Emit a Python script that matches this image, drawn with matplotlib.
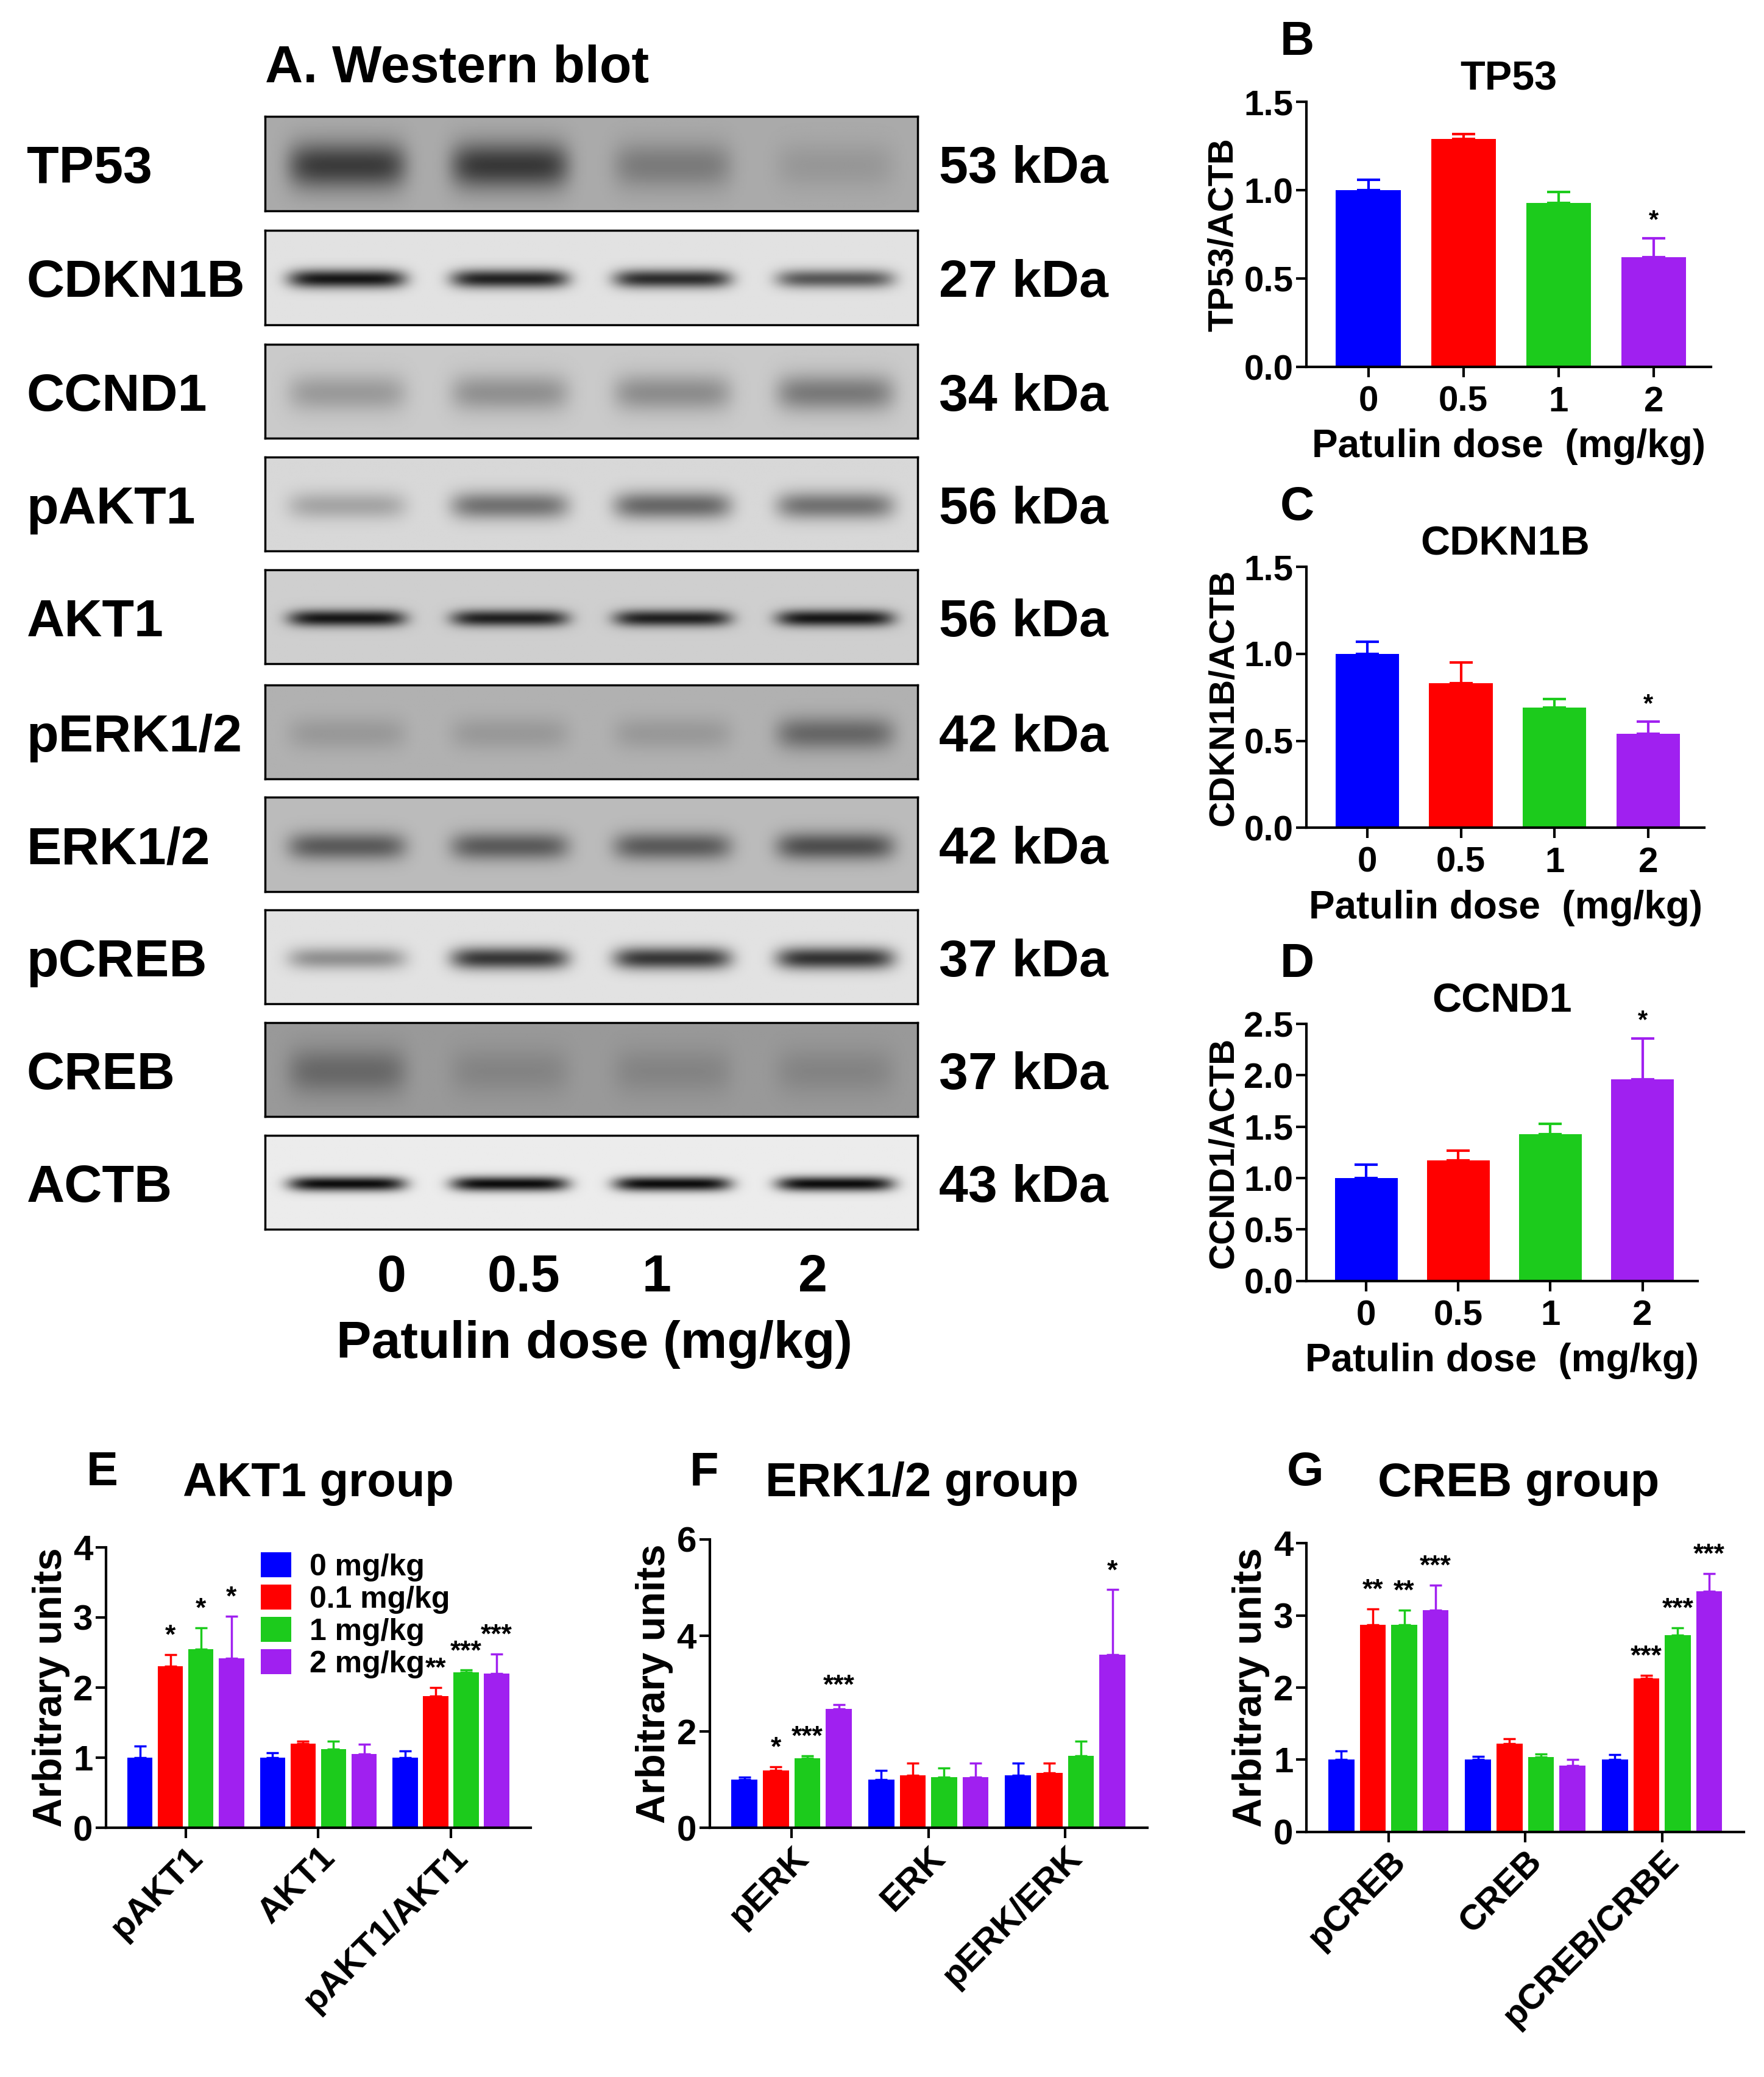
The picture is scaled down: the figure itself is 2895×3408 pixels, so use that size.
import numpy as np
import matplotlib
matplotlib.use("Agg")
import matplotlib.pyplot as plt

plt.rcParams['font.family'] = ['Liberation Sans', 'DejaVu Sans']
plt.rcParams['font.weight'] = 'bold'

W, H = 1330.0, 1568.0
fig = plt.figure(figsize=(28.95, 34.08), dpi=100)
colors = ['#0000FF', '#FF0000', '#1CCB1C', '#A020F0']

# ---- blot data ----
blot_names = ['TP53', 'CDKN1B', 'CCND1', 'pAKT1', 'AKT1', 'pERK1/2', 'ERK1/2', 'pCREB', 'CREB', 'ACTB']
blot_kda = ['53 kDa', '27 kDa', '34 kDa', '56 kDa', '56 kDa', '42 kDa', '42 kDa', '37 kDa', '37 kDa', '43 kDa']
blot_bg = [0.35, 0.12, 0.22, 0.16, 0.2, 0.32, 0.28, 0.12, 0.42, 0.08]
blot_band = [[0.7, 0.72, 0.3, 0.12],
             [0.95, 0.9, 0.85, 0.65],
             [0.25, 0.3, 0.32, 0.42],
             [0.25, 0.5, 0.55, 0.5],
             [0.95, 0.9, 0.9, 0.95],
             [0.15, 0.15, 0.15, 0.45],
             [0.55, 0.55, 0.55, 0.62],
             [0.38, 0.8, 0.8, 0.82],
             [0.35, 0.15, 0.15, 0.15],
             [1.0, 1.0, 1.0, 1.0]]
blot_thick = [0.25, 0.1, 0.2, 0.15, 0.09, 0.18, 0.15, 0.12, 0.25, 0.08]
blot_top = [88, 174, 260, 345, 430, 517, 602, 687, 772, 857]
lane_labels = ['0', '0.5', '1', '2']

xs = np.linspace(0, 1, 400)
ys = np.linspace(0, 1, 80)
for i, name in enumerate(blot_names):
    y0 = blot_top[i]
    ax = fig.add_axes([200 / W, 1 - (y0 + 71) / H, 492 / W, 71 / H])
    img = np.full((80, 400), blot_bg[i])
    for k, c in enumerate([0.125, 0.375, 0.625, 0.875]):
        gx = np.exp(-((xs - c) / 0.09) ** 6)
        gy = np.exp(-((ys - 0.52) / blot_thick[i]) ** 2)
        img = img + blot_band[i][k] * (1 - blot_bg[i]) * np.outer(gy, gx)
    ax.imshow(np.clip(img, 0, 1), cmap='gray_r', vmin=0, vmax=1.05, aspect='auto', extent=[0, 1, 0, 1])
    ax.set_xticks([])
    ax.set_yticks([])
    for s in ax.spines.values():
        s.set_linewidth(2.5)
    fig.text(20 / W, 1 - (y0 + 40) / H, name, fontsize=62, va='center', ha='left')
    fig.text(708 / W, 1 - (y0 + 40) / H, blot_kda[i], fontsize=62, va='center', ha='left')

fig.text(200 / W, 1 - 52 / H, 'A. Western blot', fontsize=62, va='center')
for lx, lab in zip([295, 395, 495, 613], lane_labels):
    fig.text(lx / W, 1 - 965 / H, lab, fontsize=62, ha='center', va='center')
fig.text(448 / W, 1 - 1015 / H, 'Patulin dose (mg/kg)', fontsize=62, ha='center', va='center')

# ---- single-protein panels ----
doses = ['0', '0.5', '1', '2']
tp53_mean = [1.0, 1.29, 0.93, 0.62]
tp53_err = [0.06, 0.03, 0.06, 0.11]
cdkn_mean = [1.0, 0.83, 0.69, 0.54]
cdkn_err = [0.07, 0.12, 0.05, 0.07]
ccnd_mean = [1.0, 1.17, 1.43, 1.96]
ccnd_err = [0.13, 0.1, 0.1, 0.4]

small = [
    ('B', 'TP53', 'TP53/ACTB', tp53_mean, tp53_err, 1.5, 0.5, (985, 1290, 77, 277)),
    ('C', 'CDKN1B', 'CDKN1B/ACTB', cdkn_mean, cdkn_err, 1.5, 0.5, (985, 1285, 428, 625)),
    ('D', 'CCND1', 'CCND1/ACTB', ccnd_mean, ccnd_err, 2.5, 0.5, (985, 1280, 773, 967)),
]
for letter, title, ylab, m, e, ymax, step, (x0, x1, yt, yb) in small:
    ax = fig.add_axes([x0 / W, 1 - yb / H, (x1 - x0) / W, (yb - yt) / H])
    x = np.arange(4)
    for k in range(4):
        ax.bar(x[k], m[k], 0.68, color=colors[k])
        ax.errorbar(x[k], m[k], yerr=[[0], [e[k]]], color=colors[k], capsize=14, elinewidth=3, capthick=3)
    ax.text(3, m[3] + e[3] + 0.02 * ymax, '*', ha='center', va='bottom', fontsize=30)
    ax.set_xlim(-0.65, 3.6)
    ax.set_ylim(0, ymax)
    ax.set_yticks(np.arange(0, ymax + 0.01, step))
    ax.set_yticklabels(['%.1f' % v for v in np.arange(0, ymax + 0.01, step)])
    ax.set_xticks(x)
    ax.set_xticklabels(doses)
    ax.tick_params(labelsize=42, width=3, length=12)
    ax.tick_params(axis='x', pad=10)
    for s in ['top', 'right']:
        ax.spines[s].set_visible(False)
    for s in ['left', 'bottom']:
        ax.spines[s].set_linewidth(3)
    ax.set_title(title, fontsize=48, fontweight='bold', pad=14)
    ax.set_ylabel(ylab, fontsize=42, fontweight='bold')
    ax.set_xlabel('Patulin dose  (mg/kg)', fontsize=46, fontweight='bold', labelpad=12)
    fig.text((x0 - 20) / W, 1 - (yt - 45) / H, letter, fontsize=56, va='center')

# ---- grouped panels ----
legend_labels = ['0 mg/kg', '0.1 mg/kg', '1 mg/kg', '2 mg/kg']
akt_groups = ['pAKT1', 'AKT1', 'pAKT1/AKT1']
akt_mean = [[1.0, 2.3, 2.55, 2.42], [1.0, 1.2, 1.12, 1.05], [1.0, 1.88, 2.22, 2.2]]
akt_err = [[0.17, 0.17, 0.3, 0.6], [0.07, 0.04, 0.12, 0.14], [0.1, 0.12, 0.03, 0.28]]
akt_star = [['', '*', '*', '*'], ['', '', '', ''], ['', '**', '***', '***']]
erk_groups = ['pERK', 'ERK', 'pERK/ERK']
erk_mean = [[1.0, 1.2, 1.45, 2.48], [1.0, 1.1, 1.05, 1.05], [1.1, 1.15, 1.5, 3.6]]
erk_err = [[0.05, 0.07, 0.05, 0.08], [0.2, 0.25, 0.2, 0.3], [0.25, 0.2, 0.3, 1.35]]
erk_star = [['', '*', '***', '***'], ['', '', '', ''], ['', '', '', '*']]
creb_groups = ['pCREB', 'CREB', 'pCREB/CRBE']
creb_mean = [[1.0, 2.87, 2.87, 3.07], [1.0, 1.22, 1.04, 0.92], [1.0, 2.13, 2.73, 3.33]]
creb_err = [[0.12, 0.22, 0.2, 0.35], [0.05, 0.07, 0.04, 0.08], [0.07, 0.04, 0.1, 0.25]]
creb_star = [['', '**', '**', '***'], ['', '', '', ''], ['', '***', '***', '***']]

groups = [
    ('E', 'AKT1 group', akt_groups, akt_mean, akt_err, akt_star, 4, (80, 400, 1168, 1380)),
    ('F', 'ERK1/2 group', erk_groups, erk_mean, erk_err, erk_star, 6, (535, 865, 1162, 1380)),
    ('G', 'CREB group', creb_groups, creb_mean, creb_err, creb_star, 4, (985, 1315, 1165, 1383)),
]
bw = 0.19
for gi, (letter, title, gnames, m, e, st, ymax, (x0, x1, yt, yb)) in enumerate(groups):
    ax = fig.add_axes([x0 / W, 1 - yb / H, (x1 - x0) / W, (yb - yt) / H])
    for g in range(3):
        for k in range(4):
            xp = g + (k - 1.5) * (bw + 0.04)
            ax.bar(xp, m[g][k], bw, color=colors[k], label=legend_labels[k] if g == 0 else None)
            ax.errorbar(xp, m[g][k], yerr=[[0], [e[g][k]]], color=colors[k], capsize=7, elinewidth=2.5, capthick=2.5)
            if st[g][k]:
                ax.text(xp, m[g][k] + e[g][k] + 0.02 * ymax, st[g][k], ha='center', va='bottom', fontsize=32)
    ax.set_xlim(-0.6, 2.6)
    ax.set_ylim(0, ymax)
    ax.set_yticks(np.arange(0, ymax + 1, 1 if ymax == 4 else 2))
    ax.set_xticks(range(3))
    ax.set_xticklabels(gnames, rotation=45, ha='right', rotation_mode='anchor')
    ax.tick_params(labelsize=42, width=3, length=12)
    for s in ['top', 'right']:
        ax.spines[s].set_visible(False)
    for s in ['left', 'bottom']:
        ax.spines[s].set_linewidth(3)
    ax.set_ylabel('Arbitrary units', fontsize=48, fontweight='bold')
    fig.text((x0 + 160) / W, 1 - 1120 / H, title, fontsize=56, ha='center', va='center')
    fig.text((x0 - 15) / W, 1 - 1112 / H, letter, fontsize=56, va='center')
    if gi == 0:
        ax.legend(loc='upper left', bbox_to_anchor=(0.3, 1.08), frameon=False,
                  handlelength=1.0, handleheight=0.9, labelspacing=0.1, handletextpad=0.6,
                  prop={'weight': 'bold', 'size': 36})

fig.savefig('out.png', dpi=100)
